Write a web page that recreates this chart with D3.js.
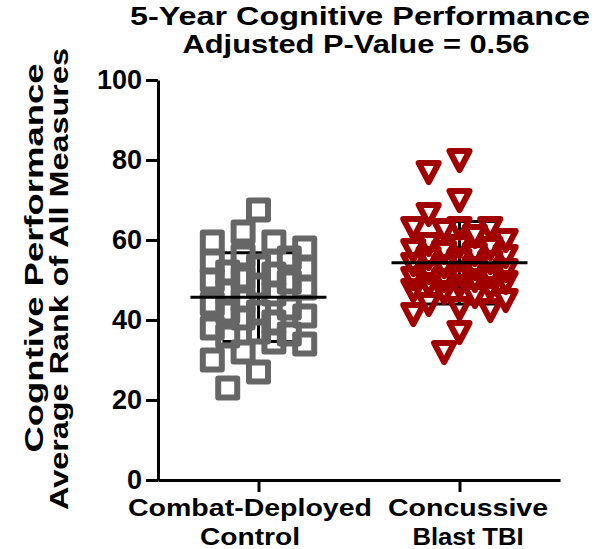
<!DOCTYPE HTML>
<html>
<head>
  <title>5-Year Cognitive Performance</title>
  <meta charset="UTF-8">
</head>
<script src="https://d3js.org/d3.v7.min.js"></script>
<style>
body { margin: 0; background: #fff; }
svg text { font-family: "Liberation Sans", Arial, sans-serif; font-weight: bold; fill: #000; }
.axis path, .axis line { stroke: #000; stroke-width: 3; }
</style>
<body>
  <svg width="604" height="549"></svg>
  <script>
    // groups and values
    var groups = ["Combat-Deployed Control", "Concussive Blast TBI"]
    var groupLines = [["Combat-Deployed", "Control"], ["Concussive", "Blast TBI"]]
    var yTicks = [0, 20, 40, 60, 80, 100]

    var controlValues = [67.5, 62, 59.5, 59.5, 58, 56, 55.5, 54.5, 53.5, 53, 52, 51.5, 50.5, 50,
      49.5, 48.5, 48, 47, 46.5, 45, 44, 43, 42, 42, 41, 40.5, 39.5, 38, 37, 36.5, 36,
      34.5, 34, 32, 30, 27, 23]
    var tbiValues = [80, 77, 70, 66.5, 63, 63, 63, 62.5, 61, 60, 59, 58.5, 58, 57.5, 57,
      56.5, 56, 55.5, 55, 54.5, 54, 53.5, 53, 52.5, 52, 51.5, 51, 50.5, 50, 50, 49.5, 49,
      48.5, 48, 47.5, 47, 46, 45, 44, 43, 42.5, 41.5, 37, 32]

    // mean and SD drawn on the chart
    var means = [45.7, 54.3]
    var sds = [11.1, 10.3]

    var svg = d3.select("svg")

    var x = d3.scalePoint().domain(groups).range([158, 560]).padding(0.5)
    var y = d3.scaleLinear().domain([0, 100]).range([480, 80])

    var colors = ["#666666", "#a00000"]

    // title
    var title = svg.append("g")
    title.append("text").attr("x", 360).attr("y", 25).attr("text-anchor", "middle")
      .attr("font-size", 25).attr("textLength", 460).attr("lengthAdjust", "spacingAndGlyphs")
      .text("5-Year Cognitive Performance")
    title.append("text").attr("x", 356).attr("y", 53).attr("text-anchor", "middle")
      .attr("font-size", 25).attr("textLength", 347).attr("lengthAdjust", "spacingAndGlyphs")
      .text("Adjusted P-Value = 0.56")

    // y label
    svg.append("text").attr("transform", "translate(43,258) rotate(-90)")
      .attr("text-anchor", "middle").attr("font-size", 25)
      .attr("textLength", 389).attr("lengthAdjust", "spacingAndGlyphs")
      .text("Cogntive Performance")
    svg.append("text").attr("transform", "translate(68,279) rotate(-90)")
      .attr("text-anchor", "middle").attr("font-size", 25)
      .attr("textLength", 462).attr("lengthAdjust", "spacingAndGlyphs")
      .text("Average Rank of All Measures")

    // axes
    svg.append("g")
      .attr("class", "axis")
      .attr("transform", "translate(158,0)")
      .call(d3.axisLeft(y).tickValues(yTicks).tickSize(12).tickSizeOuter(0).tickPadding(4))
      .call(function(g) {
        g.selectAll("text").attr("font-size", 27).attr("font-family", null)
      })

    svg.append("g")
      .attr("class", "axis")
      .attr("transform", "translate(0,480)")
      .call(d3.axisBottom(x).tickSize(12).tickSizeOuter(0).tickFormat(""))

    var labelShift = [-8.5, 8.5]
    var lineWidths = [[244, 100], [160, 111]]
    groups.forEach(function(gname, i) {
      groupLines[i].forEach(function(line, j) {
        svg.append("text")
          .attr("x", x(gname) + labelShift[i])
          .attr("y", 516 + j * 29)
          .attr("text-anchor", "middle")
          .attr("font-size", 24)
          .attr("textLength", lineWidths[i][j])
          .attr("lengthAdjust", "spacingAndGlyphs")
          .text(line)
      })
    })

    // simple beeswarm on a column grid: keep markers apart where there is room
    var colStep = 15.4, markD = 24
    function swarm(values) {
      var placed = []
      var order = [0, -1, 1, -2, 2, -3, 3]
      values.slice().sort(d3.descending).forEach(function(v) {
        var py = y(v), best = 0, bestGap = -1
        for (var n = 0; n < order.length; n++) {
          var k = order[n]
          var gap = d3.min(placed, function(p) {
            var dx = (p.k - k) * colStep, dy = p.py - py
            return Math.sqrt(dx * dx + dy * dy)
          })
          if (gap === undefined) gap = Infinity
          if (gap >= markD) { best = k; break }
          if (gap > bestGap) { bestGap = gap; best = k }
        }
        placed.push({ v: v, k: best, py: py })
      })
      return placed
    }

    var squarePath = d3.symbol().type(d3.symbolSquare).size(19 * 19)()
    var trianglePath = "M-10,-9L10,-9L0,10Z"

    ;[controlValues, tbiValues].forEach(function(vals, i) {
      var cx = x(groups[i])
      var g = svg.append("g")

      // SD whisker and caps under the points
      var lo = y(means[i] - sds[i]), hi = y(means[i] + sds[i])
      g.append("line").attr("x1", cx).attr("x2", cx).attr("y1", hi).attr("y2", lo)
        .attr("stroke", "#000").attr("stroke-width", 3)
      ;[lo, hi].forEach(function(py) {
        g.append("line").attr("x1", cx - 36).attr("x2", cx + 36).attr("y1", py).attr("y2", py)
          .attr("stroke", "#000").attr("stroke-width", 3)
      })

      g.selectAll(".pt")
        .data(swarm(vals))
        .enter().append("path")
        .attr("class", "pt")
        .attr("d", i === 0 ? squarePath : trianglePath)
        .attr("transform", function(d) {
          return "translate(" + (cx + d.k * colStep) + "," + d.py + ")"
        })
        .attr("fill", "none")
        .attr("stroke", colors[i])
        .attr("stroke-width", 6)
        .attr("stroke-linejoin", "round")

      // mean line on top
      g.append("line").attr("x1", cx - 68).attr("x2", cx + 68)
        .attr("y1", y(means[i])).attr("y2", y(means[i]))
        .attr("stroke", "#000").attr("stroke-width", 3)
    })
  </script>
</body>
</html>
